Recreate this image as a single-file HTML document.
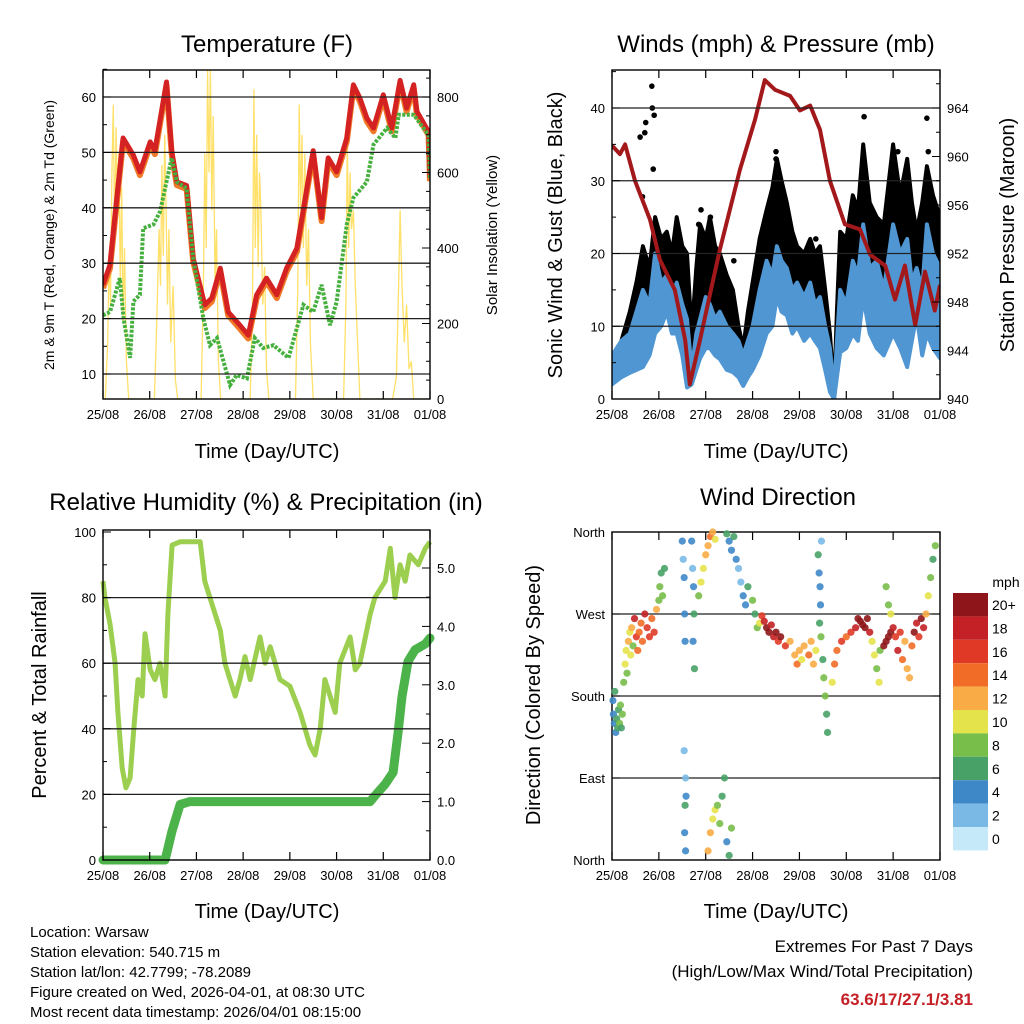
<!DOCTYPE html>
<html><head><meta charset="utf-8"><style>
html,body{margin:0;padding:0;background:#fff}
svg{display:block;font-family:"Liberation Sans",sans-serif}
</style></head><body>
<svg id="c" width="1024" height="1024" viewBox="0 0 1024 1024" xmlns="http://www.w3.org/2000/svg">
<rect x="0" y="0" width="1024" height="1024" fill="#fff"/>
<g id="g"></g>
<text x="267" y="52" font-size="24" text-anchor="middle">Temperature (F)</text>
<text x="776" y="52" font-size="24" text-anchor="middle">Winds (mph) &amp; Pressure (mb)</text>
<text x="266" y="510" font-size="24" text-anchor="middle">Relative Humidity (%) &amp; Precipitation (in)</text>
<text x="778" y="505" font-size="24" text-anchor="middle">Wind Direction</text>
<text x="267" y="458" font-size="20" text-anchor="middle">Time (Day/UTC)</text>
<text x="776" y="458" font-size="20" text-anchor="middle">Time (Day/UTC)</text>
<text x="267" y="918" font-size="20" text-anchor="middle">Time (Day/UTC)</text>
<text x="776" y="918" font-size="20" text-anchor="middle">Time (Day/UTC)</text>
<text transform="translate(54,235) rotate(-90)" font-size="14" text-anchor="middle">2m &amp; 9m T (Red, Orange) &amp; 2m Td (Green)</text>
<text transform="translate(497,235) rotate(-90)" font-size="15" text-anchor="middle">Solar Insolation (Yellow)</text>
<text transform="translate(562,235) rotate(-90)" font-size="20" text-anchor="middle">Sonic Wind &amp; Gust (Blue, Black)</text>
<text transform="translate(1014,235) rotate(-90)" font-size="20" text-anchor="middle">Station Pressure (Maroon)</text>
<text transform="translate(46,695) rotate(-90)" font-size="20" text-anchor="middle">Percent &amp; Total Rainfall</text>
<text transform="translate(540,695) rotate(-90)" font-size="20" text-anchor="middle">Direction (Colored By Speed)</text>
<g font-size="15">
<text x="30" y="937">Location: Warsaw</text>
<text x="30" y="957">Station elevation: 540.715 m</text>
<text x="30" y="977">Station lat/lon: 42.7799; -78.2089</text>
<text x="30" y="997">Figure created on Wed, 2026-04-01, at 08:30 UTC</text>
<text x="30" y="1017">Most recent data timestamp: 2026/04/01 08:15:00</text>
</g>
<g font-size="17" text-anchor="end">
<text x="973" y="952">Extremes For Past 7 Days</text>
<text x="973" y="977">(High/Low/Max Wind/Total Precipitation)</text>
<text x="973" y="1005" fill="#c42026" font-weight="bold">63.6/17/27.1/3.81</text>
</g>
</svg>
<script>
const dayLabels=["25/08","26/08","27/08","28/08","29/08","30/08","31/08","01/08"];
const tempT=[0,0.15,0.26,0.43,0.65,0.79,1.01,1.11,1.36,1.47,1.58,1.79,1.93,2.18,2.33,2.51,2.68,2.93,3.11,3.29,3.5,3.72,3.93,4.15,4.33,4.5,4.68,4.82,5.0,5.22,5.36,5.5,5.65,5.79,6.0,6.18,6.36,6.5,6.65,6.72,6.97,7.0];
const tempV=[26.1,29.7,38.7,52.6,49.5,46.5,51.9,50.3,62.7,50.3,44.7,44,30.9,22.5,23.7,29.1,21.2,18.8,17,24.3,27.3,24.3,29.1,32.7,41.8,50.3,38.2,49,46.5,52.6,62.2,59.8,56.2,54.4,60.4,54.4,63,58,62.2,57.4,53.7,45.4];
const tdT=[0,0.15,0.36,0.44,0.58,0.65,0.79,0.86,1.08,1.22,1.47,1.58,1.79,1.93,2.15,2.29,2.44,2.72,2.86,3.08,3.25,3.43,3.65,3.97,4.29,4.5,4.68,4.86,5.0,5.22,5.36,5.65,5.79,6.08,6.26,6.33,6.65,6.97,7.0];
const tdV=[20.6,21.2,27.3,20,12.9,23.1,24.3,36.3,37,39.3,49,44.7,43.5,30.9,20,15.2,16.5,8,9.8,9.2,16.5,14.7,15.2,12.9,22.5,21.2,26.1,18.8,23,37,41.8,44.7,51.4,54.4,52.6,56.8,56.8,53.1,45.4];
const solarT=[0,0.05,0.1,0.13,0.16,0.19,0.22,0.25,0.28,0.31,0.34,0.37,0.4,0.43,0.46,0.5,0.55,
1.1,1.15,1.2,1.23,1.26,1.29,1.32,1.35,1.38,1.41,1.45,1.5,1.55,1.6,
2.1,2.15,2.18,2.21,2.24,2.27,2.3,2.33,2.36,2.4,2.43,2.47,2.52,
3.15,3.2,3.23,3.26,3.29,3.32,3.35,3.38,3.42,3.46,3.5,3.55,
4.12,4.17,4.2,4.23,4.26,4.29,4.32,4.36,4.4,4.44,4.5,
5.15,5.2,5.23,5.26,5.29,5.32,5.36,5.4,5.45,5.5,
6.2,6.28,6.32,6.36,6.4,6.45,6.5,6.55,6.6,6.65,7.0];
const solarV=[0,0,150,380,250,600,780,420,720,500,650,300,560,200,400,100,0,
0,200,450,300,620,380,700,500,250,450,150,300,50,0,
0,300,650,400,870,600,880,500,750,300,450,100,0,
0,250,820,400,700,350,600,500,250,350,80,0,
0,300,780,500,700,400,650,300,450,150,0,
0,250,690,400,600,450,500,300,150,0,
0,60,250,500,300,150,250,80,100,0,0];
const presT=[0,0.17,0.28,0.49,0.81,1.02,1.34,1.56,1.66,1.88,2.09,2.3,2.73,3.05,3.26,3.48,3.8,4.01,4.23,4.44,4.65,4.97,5.29,5.51,5.83,6.04,6.25,6.47,6.68,6.89,7.0];
const presV=[960.9,960.2,961,958,954.8,951.5,949,944.9,941.2,944.9,948.6,952.3,958.9,963,966.3,965.5,965,963.8,964.2,962.2,958,954.4,954,951.9,951,948.2,951,946.1,950.5,947.3,949.4];
const windT=[0.0,0.2,0.38,0.52,0.66,0.8,0.92,1.05,1.17,1.28,1.38,1.5,1.6,1.7,1.8,1.88,2.0,2.09,2.2,2.3,2.45,2.58,2.7,2.8,2.9,3.0,3.15,3.3,3.42,3.52,3.62,3.73,3.85,3.95,4.1,4.23,4.33,4.44,4.55,4.65,4.74,4.8,4.87,5.0,5.14,5.25,5.36,5.5,5.65,5.8,6.0,6.15,6.3,6.4,6.5,6.62,6.72,6.85,7.0];
const windHi=[6,8,9,12,15,13,20,16,17,14,16,13,11,4,9,11,14,13,11,12,10,9,8,6,8,10,15,19,17,21,19,18,15,16,14,16,13,14,10,7,1,8,15,13,19,17,24,18,19,15,24,20,22,16,18,15,24,20,18];
const windLo=[2,3,3.6,4,4.4,6,9,10,12,9,9,6,1.6,2,4,5.6,7,7,6,5.5,4,3.7,3,1.8,3,4,6,9,10,14,12,11.5,9,10,8,9,8,7,4,1,0,3,6.4,7,9,8,14,9,7,6,9,7,4.4,8,11.5,6,9,7,5.6];
const gustHi=[5,8,12,16,21,18,25,22,23,20,25,21,20,9,18,24,22,25,21,20,17,15,10,7,12,16,22,26,29,33,30,27,23,21,20,22,20,21,15,9,1,12,23,22,28,26,35,27,25,24,35,28,33,27,23,27,32,28,25];
const gustLo=[3,5,6,8,9,9,13,12,13,11,12,9,5,3,6,8,10,10,9,9,7,6,5,3,5,7,10,13,13,17,15,14,12,12,11,12,11,10,7,4,0,5,9,10,13,12,18,13,12,10,15,12,11,11,13,10,15,12,10];
const gustOutT=[0.6,0.7,0.72,0.85,0.86,0.9,0.88,0.65,1.9,2.1,2.6,3.5,3.5,5.38,6.1,6.72,6.75,4.35,1.85];
const gustOutV=[36,36.6,38,43,40,39,31.6,27.8,26,25,19,34,33,38.8,34,38.6,34,22,24];
const rhT=[0,0.04,0.15,0.26,0.32,0.41,0.49,0.58,0.66,0.75,0.84,0.9,1.01,1.11,1.22,1.33,1.39,1.48,1.65,2.08,2.18,2.4,2.51,2.61,2.83,2.93,3.04,3.15,3.36,3.47,3.58,3.79,4.0,4.22,4.43,4.54,4.65,4.75,4.97,5.07,5.29,5.4,5.5,5.72,5.82,6.04,6.15,6.25,6.36,6.47,6.57,6.75,6.9,7];
const rhV=[85,80,72,60,45,28,22,25,40,55,50,69,58,55,60,50,75,96,97,97,85,75,70,60,50,55,62,55,68,60,65,55,53,45,35,32,40,55,45,60,68,58,60,75,80,85,95,80,90,85,93,90,95,97];
const rainT=[0,1.33,1.48,1.65,1.86,5.72,5.82,6.04,6.21,6.32,6.4,6.53,6.68,6.9,7];
const rainV=[0,0,0.5,0.95,1.0,1.0,1.1,1.3,1.5,2.2,2.8,3.4,3.6,3.7,3.8];
const dirT=[0.02,0.03,0.05,0.06,0.08,0.1,0.12,0.14,0.16,0.18,0.2,0.22,
0.25,0.28,0.3,0.32,0.35,0.38,0.4,0.42,0.45,0.48,
0.52,0.55,0.58,0.62,0.65,0.7,0.75,0.8,0.85,0.9,0.95,1.0,
1.02,1.05,1.08,1.12,
1.5,1.52,1.54,1.55,1.56,1.57,1.58,1.56,1.55,1.57,1.54,
1.7,1.72,1.74,1.75,1.73,1.76,
1.85,1.9,1.95,2.0,2.05,2.1,2.15,2.2,
2.05,2.1,2.15,2.2,2.25,2.3,2.35,2.4,2.45,2.5,2.55,
2.45,2.5,2.55,2.6,2.65,
2.7,2.75,2.8,2.85,2.9,
3.0,3.05,3.1,3.15,
3.2,3.25,3.3,3.35,3.4,3.45,3.5,3.55,3.6,3.7,3.8,
3.9,3.95,4.0,4.05,4.1,4.2,4.25,4.3,4.35,
4.4,4.42,4.44,4.45,4.43,4.46,4.5,4.52,4.55,4.58,4.6,4.47,
4.7,4.75,4.8,4.9,5.0,5.1,5.2,
5.25,5.3,5.35,5.4,5.45,5.5,
5.55,5.6,5.65,5.7,5.72,
5.8,5.85,5.9,5.95,6.0,
5.85,5.9,5.95,
6.05,6.1,6.15,6.2,6.25,6.3,6.35,6.4,
6.45,6.5,6.55,6.6,6.65,6.7,
6.75,6.8,6.85,6.9];
const dirD=[175,160,150,185,140,155,145,165,150,170,145,160,
195,215,230,205,240,250,225,255,235,265,
245,230,250,260,240,270,255,245,265,250,275,285,
300,315,290,320,
350,330,310,270,240,90,70,60,30,10,120,
350,320,300,270,240,210,
290,305,320,335,345,355,360,352,
10,30,45,55,60,40,70,90,20,5,35,
358,350,340,355,330,
320,305,290,280,300,
285,270,255,260,
268,262,255,250,258,245,250,240,245,235,240,
225,215,230,220,235,225,240,215,230,
335,315,300,280,260,245,220,200,180,160,140,350,
195,215,230,240,245,250,255,
265,262,258,255,265,250,
240,225,210,195,230,
235,240,245,250,255,
300,280,270,
245,230,250,220,240,210,200,235,
250,260,245,265,255,270,
290,310,330,345];
const dirS=[3,4,3,5,4,6,5,6,7,7,6,7,
8,9,10,8,11,9,10,12,8,17,
16,14,13,13,14,17,15,15,14,16,12,8,
7,6,8,6,
3,2,4,4,3,2,4,5,4,3,2,
3,2,4,5,4,5,
8,10,9,12,11,13,12,10,
12,11,10,9,7,8,5,6,4,5,7,
5,4,3,6,4,
2,2,3,4,6,
7,6,8,10,
16,18,20,20,18,17,19,16,20,15,12,
12,13,12,10,12,14,11,12,10,
6,4,3,4,5,7,6,8,7,6,6,2,
10,14,14,15,14,16,17,
20,21,20,22,21,18,
10,9,8,10,7,
20,21,20,19,17,
7,8,9,
16,18,15,13,12,11,12,14,
20,18,16,21,17,12,
9,7,6,7];
const spdColors=["#c6e9fa","#7ab9e5","#3f88c8","#48a267","#78be4a","#e5e34b","#f9ac46","#f06c27","#e03a27","#c32126","#8e161a"];
const spdLabels=["0","2","4","6","8","10","12","14","16","18","20+"];

const NS="http://www.w3.org/2000/svg";
const G=document.getElementById('g');
function el(tag,attrs,parent){const e=document.createElementNS(NS,tag);for(const k in attrs)e.setAttribute(k,attrs[k]);(parent||G).appendChild(e);return e;}
function txt(x,y,s,size,anchor,parent){const t=el('text',{x:x,y:y,'font-size':size,'text-anchor':anchor},parent);t.textContent=s;return t;}
function xs(P,d){return P.x0+d*(P.x1-P.x0)/7;}
function pathFrom(P,T,V,fy){let s='';for(let i=0;i<T.length;i++){s+=(i?'L':'M')+xs(P,T[i]).toFixed(1)+','+fy(V[i]).toFixed(1);}return s;}

function frame(P,name,grid,fy,leftTicks,leftLabels,leftMinor,rightTicks,rightLabels,fr,rightMinor){
  const g=el('g',{});
  
  
  grid.forEach(v=>{const y=fy(v);el('line',{x1:P.x0,x2:P.x1,y1:y,y2:y,stroke:'#222','stroke-width':1.3},g);});
  for(let d=0;d<=7;d++){const x=xs(P,d);
    el('line',{x1:x,x2:x,y1:P.y1,y2:P.y1-8,stroke:'#000','stroke-width':1.2},g);
    el('line',{x1:x,x2:x,y1:P.y0,y2:P.y0+8,stroke:'#000','stroke-width':1.2},g);
    const t=txt(x,P.y1+20,dayLabels[d],13,'middle',g);
    
    
  }
  leftTicks.forEach((v,i)=>{const y=fy(v);el('line',{x1:P.x0,x2:P.x0+8,y1:y,y2:y,stroke:'#000'},g);
    const t=txt(P.x0-7,y+5,leftLabels[i],13,'end',g);
    
    
    if(!rightTicks)el('line',{x1:P.x1,x2:P.x1-8,y1:y,y2:y,stroke:'#000'},g);});
  (leftMinor||[]).forEach(v=>{const y=fy(v);el('line',{x1:P.x0,x2:P.x0+4,y1:y,y2:y,stroke:'#000'},g);});
  if(rightTicks){rightTicks.forEach((v,i)=>{const y=fr(v);el('line',{x1:P.x1,x2:P.x1-8,y1:y,y2:y,stroke:'#000'},g);
    const t=txt(P.x1+7,y+5,rightLabels[i],13,'start',g);
    
    });
   (rightMinor||[]).forEach(v=>{const y=fr(v);el('line',{x1:P.x1,x2:P.x1-4,y1:y,y2:y,stroke:'#000'},g);});}
  el('rect',{x:P.x0,y:P.y0,width:P.x1-P.x0,height:P.y1-P.y0,fill:'none',stroke:'#000','stroke-width':1.4},g);
}

// ---------- Temperature ----------
const P1={x0:103,x1:430,y0:70,y1:399};
const fT=v=>374-(v-10)*5.54, fS=v=>399-v*0.3775;
const clip1=el('clipPath',{id:'c1'});el('rect',{x:P1.x0,y:P1.y0,width:P1.x1-P1.x0,height:P1.y1-P1.y0},clip1);
const g1=el('g',{'clip-path':'url(#c1)'});
let p=el('path',{d:pathFrom(P1,solarT,solarV,fS),fill:'none',stroke:'#ffe068','stroke-width':1.3},g1);


p=el('path',{d:pathFrom(P1,tempT,tempV.map(v=>v-0.6),fT),fill:'none',stroke:'#f07a28','stroke-width':6,'stroke-linejoin':'round'},g1);


p=el('path',{d:pathFrom(P1,tempT,tempV,fT),fill:'none',stroke:'#d42222','stroke-width':5,'stroke-linejoin':'round'},g1);


p=el('path',{d:pathFrom(P1,tdT,tdV,fT),fill:'none',stroke:'#45b03e','stroke-width':4,'stroke-dasharray':'3 1.5'},g1);


frame(P1,'temperature',[10,20,30,40,50,60],fT,[10,20,30,40,50,60],["10","20","30","40","50","60"],[15,25,35,45,55,65],
  [0,200,400,600,800],["0","200","400","600","800"],fS,[50,100,150,250,300,350,450,500,550,650,700,750,850]);

// ---------- Winds ----------
const P2={x0:612,x1:940,y0:70,y1:399};
const fW=v=>399-v*7.275, fP=v=>399-(v-940)*12.125;
const clip2=el('clipPath',{id:'c2'});el('rect',{x:P2.x0,y:P2.y0,width:P2.x1-P2.x0,height:P2.y1-P2.y0},clip2);
const g2=el('g',{'clip-path':'url(#c2)'});
function band(T,hi,lo,f,fill,name,sw){let s=pathFrom(P2,T,hi,f);for(let i=T.length-1;i>=0;i--)s+='L'+xs(P2,T[i]).toFixed(1)+','+f(lo[i]).toFixed(1);
  const b=el('path',{d:s+'Z',fill:fill,stroke:fill,'stroke-width':sw,'stroke-linejoin':'round'},g2);
  
  }
band(windT,gustHi,gustLo,fW,'#000','gust-band',4);
gustOutT.forEach((t,i)=>{const c=el('circle',{cx:xs(P2,t),cy:fW(gustOutV[i]),r:2.8,fill:'#000'},g2);
  
  });
band(windT,windHi,windLo,fW,'#4f96d2','wind-band',4);
p=el('path',{d:pathFrom(P2,presT,presV,fP),fill:'none',stroke:'#a3191b','stroke-width':4,'stroke-linejoin':'round'},g2);


frame(P2,'winds',[10,20,30,40],fW,[0,10,20,30,40],["0","10","20","30","40"],[5,15,25,35,45],
  [940,944,948,952,956,960,964],["940","944","948","952","956","960","964"],fP,[942,946,950,954,958,962,966]);

// ---------- RH ----------
const P3={x0:103,x1:430,y0:530,y1:860};
const fH=v=>860-v*3.28, fR=v=>860-v*58.4;
const clip3=el('clipPath',{id:'c3'});el('rect',{x:P3.x0-5,y:P3.y0,width:P3.x1-P3.x0+10,height:P3.y1-P3.y0+5},clip3);
const g3=el('g',{'clip-path':'url(#c3)'});
p=el('path',{d:pathFrom(P3,rhT,rhV,fH),fill:'none',stroke:'#9ccf4f','stroke-width':5,'stroke-linejoin':'round'},g3);


p=el('path',{d:pathFrom(P3,rainT,rainV,fR),fill:'none',stroke:'#4cb34a','stroke-width':9,'stroke-linejoin':'round','stroke-linecap':'round'},g3);


frame(P3,'humidity',[20,40,60,80],fH,[0,20,40,60,80,100],["0","20","40","60","80","100"],[10,30,50,70,90],
  [0,1,2,3,4,5],["0.0","1.0","2.0","3.0","4.0","5.0"],fR,[0.5,1.5,2.5,3.5,4.5]);

// ---------- Wind Direction ----------
const P4={x0:612,x1:940,y0:532,y1:860};
const fD=v=>860-v*0.9111;
frame(P4,'wind-direction',[90,180,270],fD,[0,90,180,270,360],["North","East","South","West","North"],[]);
const g4=el('g',{});
dirT.forEach((t,i)=>{const ci=Math.min(10,Math.round(dirS[i]/2));
  const c=el('circle',{cx:xs(P4,t),cy:fD(dirD[i]),r:3.6,fill:spdColors[ci],'fill-opacity':0.9},g4);
  
  });
// legend
const lg=el('g',{});


txt(1006,587,'mph',14,'middle',lg);
for(let i=0;i<11;i++){const k=10-i;const y=593+i*23.4;
  el('rect',{x:953,y:y,width:35,height:23.4,fill:spdColors[k]},lg);
  const t=txt(992,y+17,spdLabels[k],14,'start',lg);
  
  }
</script>
</body></html>
